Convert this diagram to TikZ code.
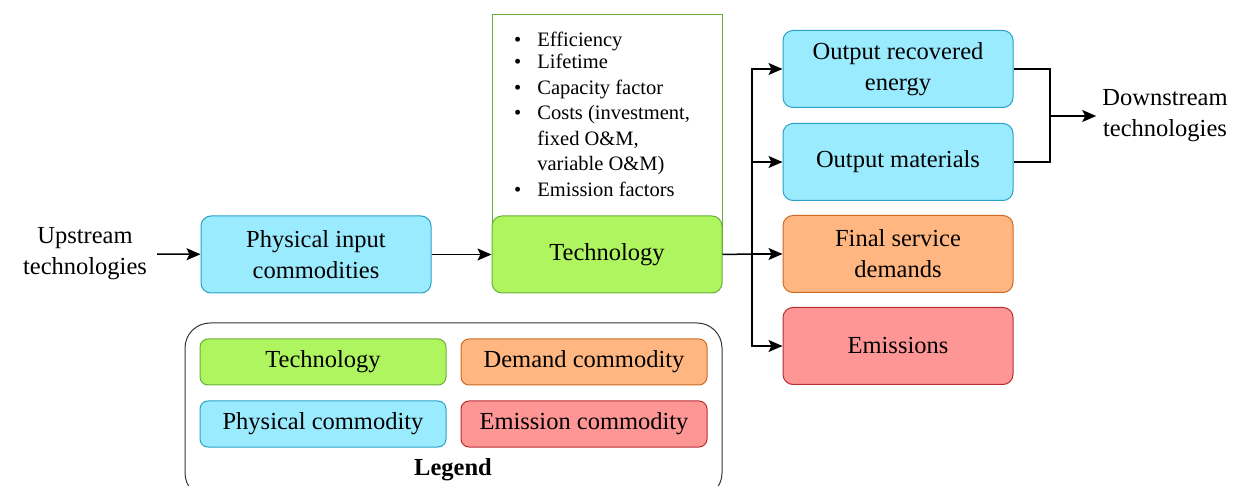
\documentclass[tikz,border=0pt]{standalone}
\usepackage{fontspec}
\setmainfont{Liberation Serif}
\usetikzlibrary{arrows.meta}
\definecolor{grnfill}{RGB}{175,245,95}
\definecolor{grnline}{RGB}{105,175,55}
\definecolor{bluefill}{RGB}{155,235,255}
\definecolor{blueline}{RGB}{40,160,200}
\definecolor{orfill}{RGB}{255,182,128}
\definecolor{orline}{RGB}{205,105,35}
\definecolor{redfill}{RGB}{255,150,150}
\definecolor{redline}{RGB}{185,45,50}
\tikzset{
  box/.style={rounded corners=10pt, line width=1pt, minimum width=230pt, minimum height=77pt, align=center, inner sep=2pt, font=\fontsize{24.5}{31}\selectfont},
  lbox/.style={rounded corners=8pt, line width=1pt, minimum width=246pt, minimum height=46pt, align=center, inner sep=2pt, font=\fontsize{24.5}{31}\selectfont},
  tech/.style={fill=grnfill, draw=grnline},
  phys/.style={fill=bluefill, draw=blueline},
  dem/.style={fill=orfill, draw=orline},
  emi/.style={fill=redfill, draw=redline},
  conn/.style={line width=1.5pt, -{Stealth[length=14pt,width=12pt,inset=3pt]}},
  plain/.style={line width=1.5pt},
  txt/.style={align=center, font=\fontsize{24.5}{31}\selectfont, inner sep=0pt}
}
\begin{document}
\begin{tikzpicture}[x=1pt,y=-1pt]
\useasboundingbox (0,0) rectangle (1235,486);
\clip (0,0) rectangle (1235,486);
% parameter box
\node[draw=grnline, line width=1pt, fill=white, minimum width=230pt, minimum height=239pt, inner sep=0pt] (params) at (607,134.5) {};
\node[anchor=west, inner sep=0pt, font=\fontsize{20.5}{25.5}\selectfont] (plist) at (514,116) {%
\begin{tabular}{@{}l@{\hspace{16pt}}l@{}}
\textbullet & Efficiency\\[-3pt]
\textbullet & Lifetime\\
\textbullet & Capacity factor\\
\textbullet & Costs (investment,\\
 & fixed O\&M,\\
 & variable O\&M)\\
\textbullet & Emission factors
\end{tabular}};
% main boxes
\node[txt] (up) at (85,254) {Upstream\\technologies};
\node[box, phys] (pin) at (316,254.5) {Physical input\\commodities};
\node[box, tech] (tech) at (607,254.5) {Technology};
\node[box, phys] (ore) at (898,69) {Output recovered\\energy};
\node[box, phys] (om) at (898,162) {Output materials};
\node[box, dem] (fsd) at (898,254) {Final service\\demands};
\node[box, emi] (em) at (898,346) {Emissions};
\node[txt] (down) at (1165,116) {Downstream\\technologies};
% connectors
\coordinate (br) at (752,254);
\coordinate (mg) at (1050,116);
\draw[conn, shorten <=10pt] (up) -- (pin);
\draw[conn] (pin) -- (tech);
\draw[plain] (tech.east) -- (br);
\draw[conn] (br) |- (ore.west);
\draw[conn] (br) |- (om.west);
\draw[conn] (br) -- (fsd.west);
\draw[conn] (br) |- (em.west);
\draw[plain] (ore.east) -| (mg);
\draw[plain] (om.east) -| (mg);
\draw[conn, shorten >=6pt] (mg) -- (down.west);
% legend
\node[draw=black!80, line width=1pt, rounded corners=25pt, minimum width=537pt, minimum height=175pt, inner sep=0pt] (legend) at (453.5,410.5) {};
\node[lbox, tech] (l1) at (323,362) {Technology};
\node[lbox, dem] (l2) at (584,362) {Demand commodity};
\node[lbox, phys] (l3) at (323,424) {Physical commodity};
\node[lbox, emi] (l4) at (584,424) {Emission commodity};
\node[txt, font=\fontsize{24.5}{31}\selectfont\bfseries] (lt) at (453,470) {Legend};
\end{tikzpicture}
\end{document}
